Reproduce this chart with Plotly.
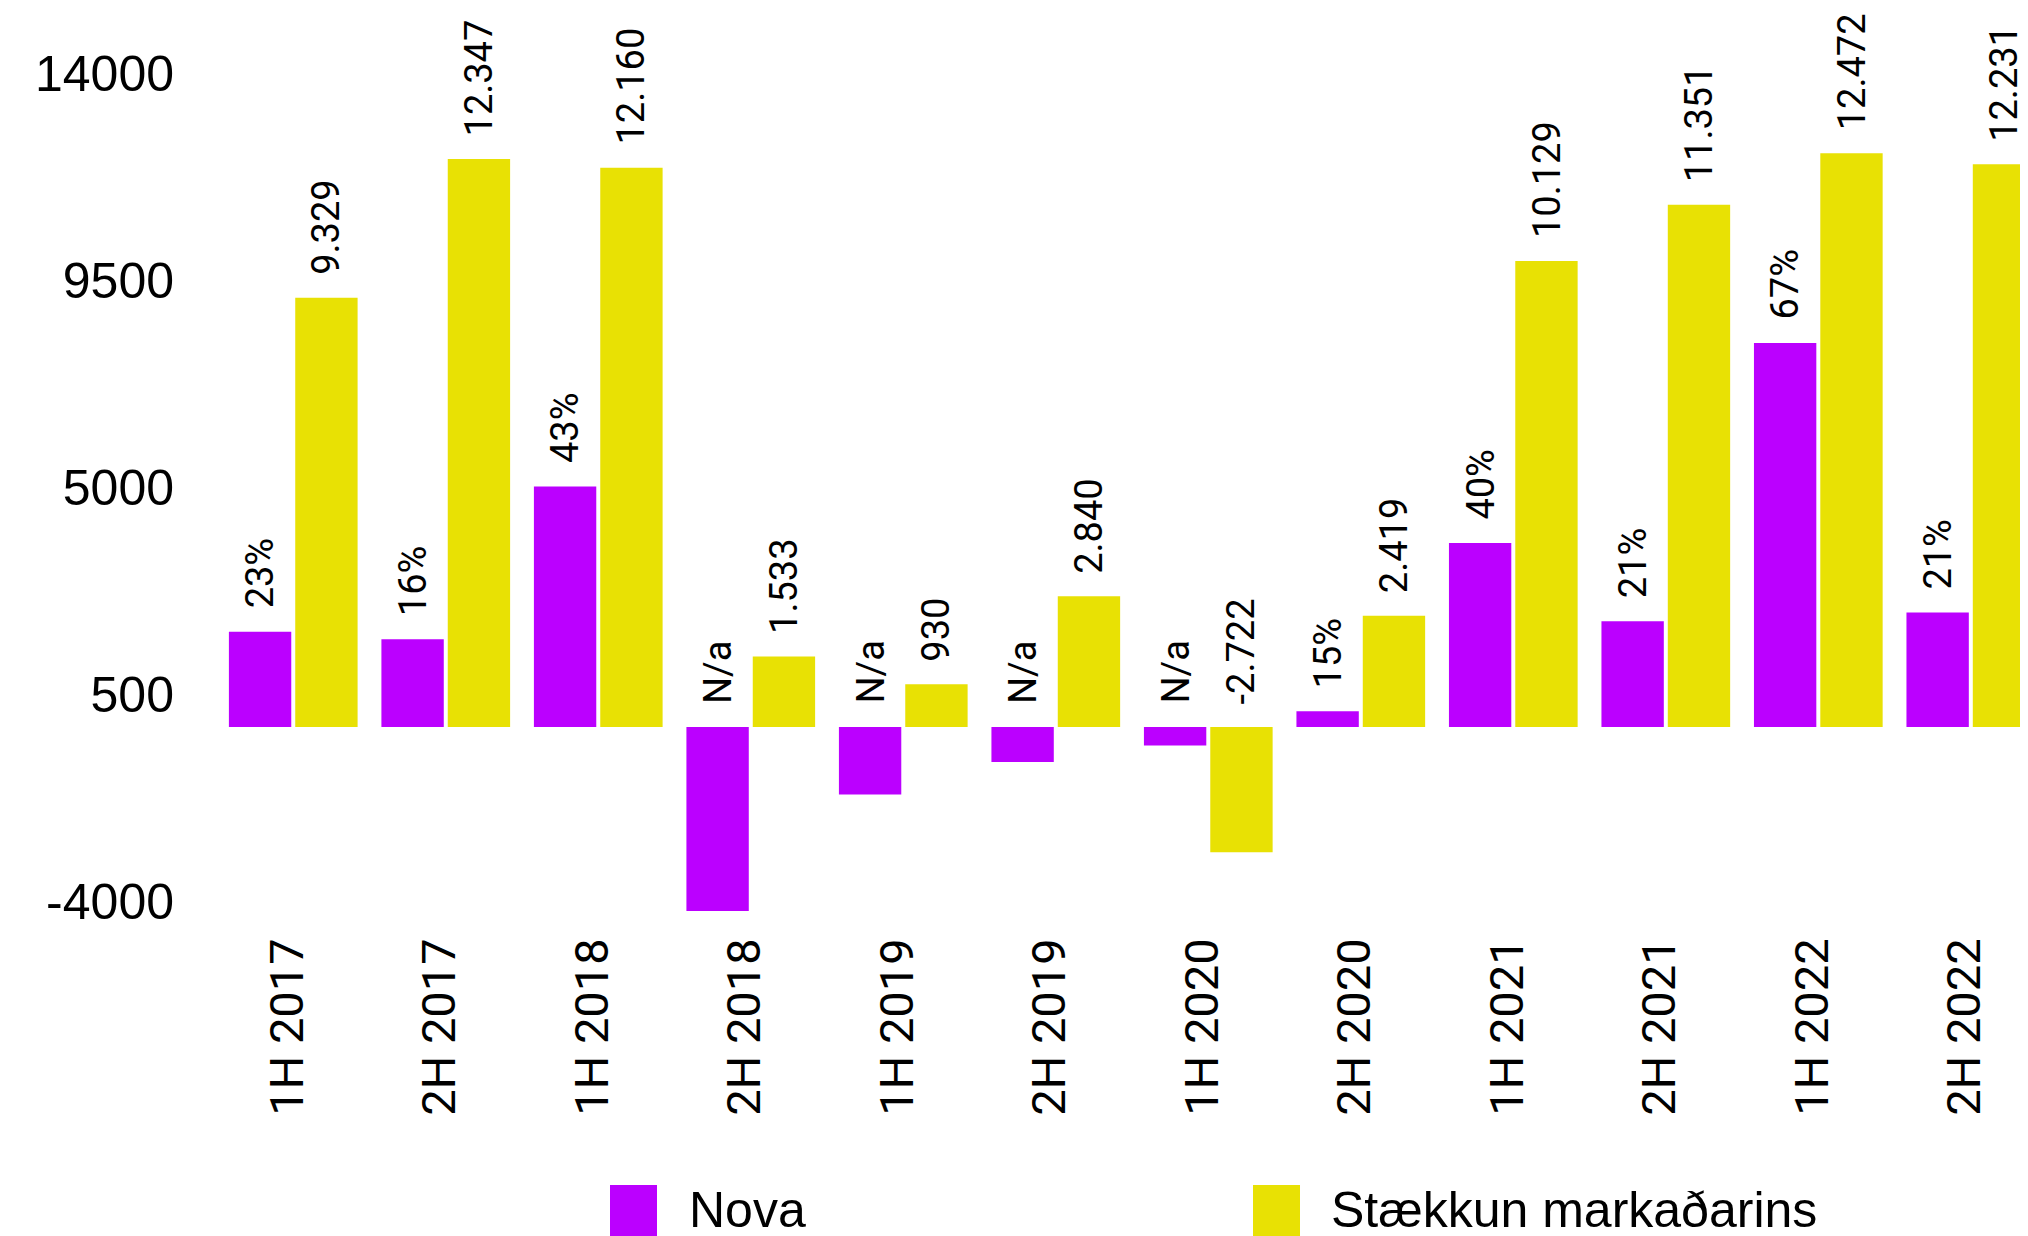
import plotly.graph_objects as go

categories = ["1H 2017", "2H 2017", "1H 2018", "2H 2018", "1H 2019", "2H 2019",
              "1H 2020", "2H 2020", "1H 2021", "2H 2021", "1H 2022", "2H 2022"]
nova_values = [2070, 1910, 5230, -4000, -1470, -760, -400, 340, 4000, 2300, 8350, 2490]
nova_labels = ["23%", "16%", "43%", "N/a", "N/a", "N/a", "N/a", "15%", "40%", "21%", "67%", "21%"]
market_values = [9329, 12347, 12160, 1533, 930, 2840, -2722, 2419, 10129, 11351, 12472, 12231]
series_names = ["Nova", "Stækkun markaðarins"]
y_ticks = [-4000, 500, 5000, 9500, 14000]

PURPLE = "#bb00ff"
YELLOW = "#e8e104"
W, H = 2028, 1236
SH = 8  # page body margin compensation
L, R, T, B = 217 - SH, SH, 83 - SH, 1236 - (911 - SH)
BARGAP = 0.13
TICK_FONT = "Liberation Sans, Arial, sans-serif"
LABEL_FONT = "Roboto, sans-serif"

fig = go.Figure()
fig.add_trace(go.Bar(x=categories, y=nova_values, name=series_names[0],
                     marker=dict(color=PURPLE, line=dict(width=0))))
fig.add_trace(go.Bar(x=categories, y=market_values, name=series_names[1],
                     marker=dict(color=YELLOW, line=dict(width=0))))

off = (1 - BARGAP) / 4
annotations = []
for i in range(len(categories)):
    for val, txt, sgn in ((nova_values[i], nova_labels[i], -1),
                          (market_values[i], f"{market_values[i]:,}".replace(",", "."), 1)):
        annotations.append(dict(x=i + sgn * off, y=max(val, 0), xref="x", yref="y",
                                text=txt, textangle=-90, showarrow=False,
                                xanchor="center", yanchor="bottom", yshift=21,
                                font=dict(family=LABEL_FONT, size=38, color="black")))

pw, ph = W - L - R, H - T - B
def px(xp):
    return (xp - SH - L) / pw
def py(yp):
    return (H - B - (yp - SH)) / ph

shapes = []
legend_items = [(series_names[0], PURPLE, 610, 687), (series_names[1], YELLOW, 1253, 1329)]
for name, col, sx, tx in legend_items:
    shapes.append(dict(type="rect", xref="paper", yref="paper",
                       x0=px(sx), x1=px(sx + 47), y0=py(1185), y1=py(1260),
                       fillcolor=col, line=dict(width=0)))
    annotations.append(dict(x=px(tx), y=py(1210), xref="paper", yref="paper",
                            text=name, showarrow=False, xanchor="left", yanchor="middle",
                            font=dict(family=TICK_FONT, size=50, color="black")))

fig.update_layout(
    width=W, height=H,
    margin=dict(l=L, r=R, t=T, b=B, pad=0),
    paper_bgcolor="white", plot_bgcolor="white",
    barmode="group", bargap=BARGAP, bargroupgap=0.06,
    showlegend=False,
    annotations=annotations, shapes=shapes,
)
fig.update_xaxes(type="category", range=[-0.5, 11.375], showgrid=False, zeroline=False,
                 showline=False, ticks="", tickangle=-90, ticklabelstandoff=17,
                 ticklabelshift=-6,
                 tickfont=dict(family=LABEL_FONT, size=47, color="black"))
fig.update_yaxes(range=[-4000, 14000], tickvals=y_ticks, ticktext=[str(v) for v in y_ticks],
                 showgrid=False, zeroline=False, showline=False, ticks="",
                 ticklabelstandoff=42, ticklabelshift=-10,
                 tickfont=dict(family=TICK_FONT, size=50, color="black"))

fig.write_html("out.html")
